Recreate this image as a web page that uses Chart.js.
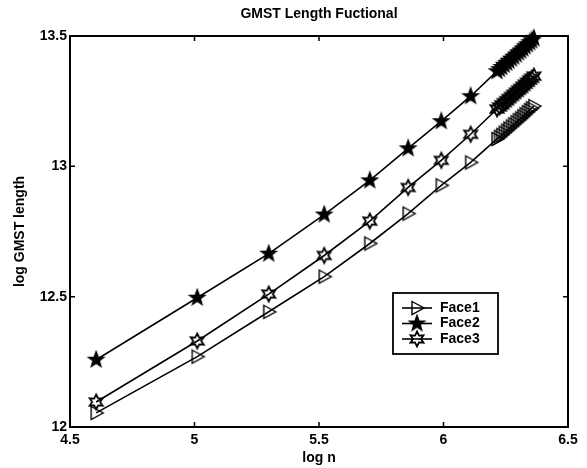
<!DOCTYPE html>
<html>
<head>
<meta charset="utf-8">
<script src="https://cdn.jsdelivr.net/npm/chart.js@4.4.0/dist/chart.umd.min.js"></script>
<style>
	html, body { margin: 0; padding: 0; background: #fff; }
</style>
</head>
<body>
<canvas id="gmstChart" width="587" height="468"></canvas>
<script>
// data block
const logN = [4.605, 5.011, 5.298, 5.521, 5.704, 5.858, 5.991, 6.109,
	6.215, 6.225, 6.234, 6.244, 6.254, 6.263, 6.273, 6.282, 6.292,
	6.301, 6.310, 6.319, 6.328, 6.337, 6.346, 6.354, 6.363];
const face1 = [12.054, 12.270, 12.442, 12.577, 12.704, 12.819, 12.927, 13.015,
	13.105, 13.113, 13.121, 13.129, 13.137, 13.145, 13.153, 13.161, 13.169,
	13.177, 13.184, 13.192, 13.200, 13.208, 13.216, 13.223, 13.231];
const face2 = [12.258, 12.496, 12.665, 12.815, 12.946, 13.069, 13.173, 13.269,
	13.365, 13.373, 13.381, 13.389, 13.397, 13.405, 13.413, 13.421, 13.429,
	13.437, 13.444, 13.452, 13.460, 13.468, 13.476, 13.483, 13.491];
const face3 = [12.096, 12.330, 12.510, 12.658, 12.790, 12.919, 13.023, 13.123,
	13.220, 13.228, 13.236, 13.244, 13.252, 13.260, 13.268, 13.276, 13.284,
	13.292, 13.299, 13.307, 13.315, 13.323, 13.331, 13.338, 13.346];
const seriesNames = ['Face1', 'Face2', 'Face3'];
const xTicks = [4.5, 5, 5.5, 6, 6.5];
const xTickLabels = ['4.5', '5', '5.5', '6', '6.5'];
const yTicks = [12, 12.5, 13, 13.5];
const yTickLabels = ['12', '12.5', '13', '13.5'];

const FONT = 'Liberation Sans, Arial, Helvetica, sans-serif';

// marker images (matlab style: '>' , 'p' filled, 'h')
function makeMarker(kind) {
	const c = document.createElement('canvas');
	c.width = 20;
	c.height = 20;
	const g = c.getContext('2d');
	g.translate(10, 10);
	g.strokeStyle = '#000';
	g.lineWidth = 1.4;
	g.lineJoin = 'miter';
	g.beginPath();
	if (kind === 'tri') {
		g.moveTo(-5, -6.5);
		g.lineTo(7, 0);
		g.lineTo(-5, 6.5);
		g.closePath();
		g.stroke();
	} else if (kind === 'pent') {
		for (let i = 0; i < 10; i++) {
			const r = i % 2 ? 3.3 : 8;
			const a = -Math.PI / 2 + i * Math.PI / 5;
			g.lineTo(r * Math.cos(a), r * Math.sin(a));
		}
		g.closePath();
		g.fillStyle = '#000';
		g.fill();
		g.stroke();
	} else {
		for (let i = 0; i < 12; i++) {
			const r = i % 2 ? 4 : 7.5;
			const a = -Math.PI / 2 + i * Math.PI / 6;
			g.lineTo(r * Math.cos(a), r * Math.sin(a));
		}
		g.closePath();
		g.lineWidth = 1.8;
		g.stroke();
	}
	return c;
}
const markers = [makeMarker('tri'), makeMarker('pent'), makeMarker('hex')];

function toPoints(ys) {
	return logN.map((x, i) => ({ x: x, y: ys[i] }));
}

const datasets = [face1, face2, face3].map((ys, i) => ({
	label: seriesNames[i],
	data: toPoints(ys),
	showLine: true,
	borderColor: '#000',
	backgroundColor: '#000',
	borderWidth: 1.6,
	pointStyle: markers[i],
	pointRadius: 7,
	clip: false,
}));

// box with inward ticks, like matlab axes
const boxAxes = {
	id: 'boxAxes',
	afterDatasetsDraw(chart) {
		const { ctx, chartArea: a, scales: { x, y } } = chart;
		ctx.save();
		ctx.strokeStyle = '#000';
		ctx.lineWidth = 2;
		ctx.strokeRect(a.left, a.top, a.right - a.left, a.bottom - a.top);
		ctx.lineWidth = 1.5;
		ctx.beginPath();
		xTicks.slice(1, -1).forEach((v) => {
			const px = x.getPixelForValue(v);
			ctx.moveTo(px, a.bottom);
			ctx.lineTo(px, a.bottom - 5);
			ctx.moveTo(px, a.top);
			ctx.lineTo(px, a.top + 5);
		});
		yTicks.slice(1, -1).forEach((v) => {
			const py = y.getPixelForValue(v);
			ctx.moveTo(a.left, py);
			ctx.lineTo(a.left + 5, py);
			ctx.moveTo(a.right, py);
			ctx.lineTo(a.right - 5, py);
		});
		ctx.stroke();
		ctx.restore();
	},
	afterDraw(chart) {
		const { ctx, chartArea: a } = chart;
		ctx.save();
		// title
		ctx.fillStyle = '#000';
		ctx.font = 'bold 14px ' + FONT;
		ctx.textAlign = 'center';
		ctx.textBaseline = 'middle';
		ctx.fillText('GMST Length Fuctional', (a.left + a.right) / 2, 14);
		// legend
		const bx = 393, by = 293, bw = 105, bh = 61;
		ctx.fillStyle = '#fff';
		ctx.fillRect(bx, by, bw, bh);
		ctx.strokeStyle = '#000';
		ctx.lineWidth = 1.8;
		ctx.strokeRect(bx, by, bw, bh);
		seriesNames.forEach((name, i) => {
			const ry = by + 15 + i * 15.5;
			ctx.lineWidth = 1.6;
			ctx.beginPath();
			ctx.moveTo(bx + 9, ry);
			ctx.lineTo(bx + 39, ry);
			ctx.stroke();
			ctx.drawImage(markers[i], bx + 24 - 10, ry - 10);
			ctx.fillStyle = '#000';
			ctx.textAlign = 'left';
			ctx.fillText(name, bx + 47, ry);
		});
		ctx.restore();
	},
};

// config block
const config = {
	type: 'scatter',
	data: { datasets },
	options: {
		responsive: false,
		animation: false,
		devicePixelRatio: 1,
		layout: { padding: { top: 36, right: 19, left: 0, bottom: 0 } },
		plugins: {
			legend: { display: false },
			title: { display: false },
			tooltip: { enabled: false },
		},
		scales: {
			x: {
				type: 'linear',
				min: 4.5,
				max: 6.5,
				afterBuildTicks: (s) => { s.ticks = xTicks.map((v) => ({ value: v })); },
				afterFit: (s) => { s.height = 41; },
				grid: { display: false, drawTicks: false },
				border: { display: false },
				ticks: {
					color: '#000',
					padding: 5,
					maxRotation: 0,
					font: { family: FONT, size: 14, weight: 'bold' },
					callback: (v, i) => xTickLabels[i],
				},
				title: {
					display: true,
					text: 'log n',
					color: '#000',
					padding: { top: 0, bottom: 1 },
					font: { family: FONT, size: 14, weight: 'bold' },
				},
			},
			y: {
				type: 'linear',
				min: 12,
				max: 13.5,
				afterBuildTicks: (s) => { s.ticks = yTicks.map((v) => ({ value: v })); },
				afterFit: (s) => { s.width = 70; },
				grid: { display: false, drawTicks: false },
				border: { display: false },
				ticks: {
					color: '#000',
					padding: 3,
					font: { family: FONT, size: 14, weight: 'bold' },
					callback: (v, i) => yTickLabels[i],
				},
				title: {
					display: true,
					text: 'log GMST length',
					color: '#000',
					padding: { top: 12, bottom: 0 },
					font: { family: FONT, size: 14, weight: 'bold' },
				},
			},
		},
	},
	plugins: [boxAxes],
};

// render block
const gmstChart = new Chart(document.getElementById('gmstChart'), config);
</script>
</body>
</html>
